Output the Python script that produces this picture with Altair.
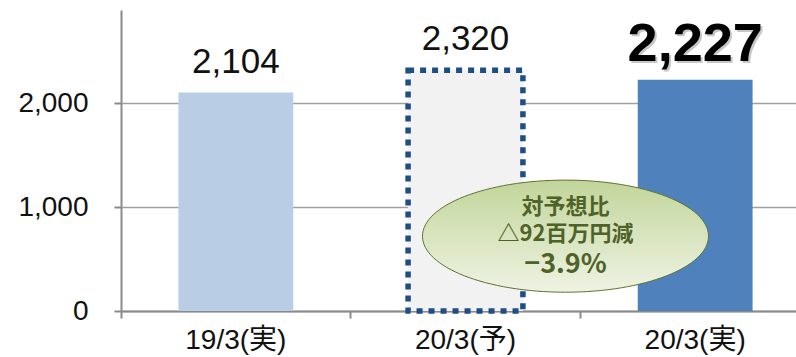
import altair as alt
import pandas as pd

categories = ["19/3(実)", "20/3(予)", "20/3(実)"]
values = [2104, 2320, 2227]
label_texts = ["2,104", "2,320", "2,227"]
bar_fills = ["#b9cde5", "#f2f2f2", "#4f81bd"]

note_lines = ["対予想比", "△92百万円減", "−3.9%"]
note_line_values = [1005, 742, 440]
note_font_sizes = [22, 22, 27]
note_center_category = "20/3(予)"
note_center_value = 721

NUM_FONT = "Liberation Sans, Noto Sans CJK JP, sans-serif"
BIG_FONT = "Liberation Sans, sans-serif"
CJK_FONT = "Noto Sans CJK JP, sans-serif"
AXIS_GREY = "#8a8a8a"

bars_df = pd.DataFrame({"cat": categories, "value": values,
                        "label": label_texts, "fill": bar_fills})
note_df = pd.DataFrame({"cat": [note_center_category] * len(note_lines),
                        "value": note_line_values, "text": note_lines,
                        "fs": note_font_sizes})
ellipse_df = pd.DataFrame({"cat": [note_center_category], "value": [note_center_value]})

x_enc = alt.X("cat:N", sort=categories,
              scale=alt.Scale(paddingInner=0.5, paddingOuter=0.25, range=[0, 689]),
              axis=alt.Axis(title=None, labelAngle=0, bandPosition=-0.5,
                            domainColor=AXIS_GREY, domainWidth=2,
                            tickColor=AXIS_GREY, tickWidth=2, tickSize=7,
                            labelFont=NUM_FONT, labelFontSize=28, labelColor="#111111",
                            labelPadding=8, grid=False))
y_enc = alt.Y("value:Q",
              scale=alt.Scale(domain=[0, 2900], nice=False, zero=True),
              axis=alt.Axis(title=None, values=[0, 1000, 2000], format=",.0f",
                            grid=True, gridColor="#a0a0a0", gridWidth=1.6,
                            domainColor=AXIS_GREY, domainWidth=2,
                            tickColor=AXIS_GREY, tickWidth=2, tickSize=7,
                            labelFont=NUM_FONT, labelFontSize=28, labelColor="#111111",
                            labelPadding=26))

base = alt.Chart(bars_df)

bars = base.mark_bar().encode(x=x_enc, y=y_enc, fill=alt.Fill("fill:N", scale=None))

dotted = base.transform_filter(alt.datum.cat == "20/3(予)").mark_bar(
    fillOpacity=0, stroke="#1f4e85", strokeWidth=5.5, strokeDash=[6, 6]
).encode(x=x_enc, y=y_enc)

labels = base.transform_filter(alt.datum.cat != "20/3(実)").mark_text(
    baseline="alphabetic", dy=-20, fontSize=35, font=NUM_FONT, color="#111111"
).encode(x=x_enc, y=y_enc, text="label:N")

shadow = base.transform_filter(alt.datum.cat == "20/3(実)").mark_text(
    baseline="alphabetic", dy=-17, dx=2, fontSize=54, font=BIG_FONT,
    fontWeight="bold", color="#9a9a9a", opacity=0.55
).encode(x=x_enc, y=y_enc, text="label:N")

big = base.transform_filter(alt.datum.cat == "20/3(実)").mark_text(
    baseline="alphabetic", dy=-19, fontSize=54, font=BIG_FONT,
    fontWeight="bold", color="#000000"
).encode(x=x_enc, y=y_enc, text="label:N")

ellipse_path = "M -1 0 A 1 0.392 0 1 1 1 0 A 1 0.392 0 1 1 -1 0 Z"
grad = alt.Gradient(gradient="linear", x1=0, x2=0, y1=0, y2=1,
                    stops=[alt.GradientStop(color="#c2d59a", offset=0),
                           alt.GradientStop(color="#eef3e3", offset=1)])
ellipse = alt.Chart(ellipse_df).mark_point(
    shape=ellipse_path, size=286 ** 2, filled=True, fill=grad,
    stroke="#5f7330", strokeWidth=1, opacity=1, xOffset=100
).encode(x=x_enc, y=y_enc)

note = alt.Chart(note_df).mark_text(
    xOffset=100, baseline="middle", font=CJK_FONT, fontWeight="bold", color="#4f6228"
).encode(x=x_enc, y=y_enc, text="text:N", size=alt.Size("fs:Q", scale=None))

chart = alt.layer(bars, dotted, labels, shadow, big, ellipse, note).properties(
    width=675, height=301,
    autosize=alt.AutoSizeParams(type="none"),
    padding={"left": 121, "top": 10, "right": 0, "bottom": 46},
).configure_view(stroke=None)

chart.save("out.html", embed_options={"renderer": "svg", "actions": False})
